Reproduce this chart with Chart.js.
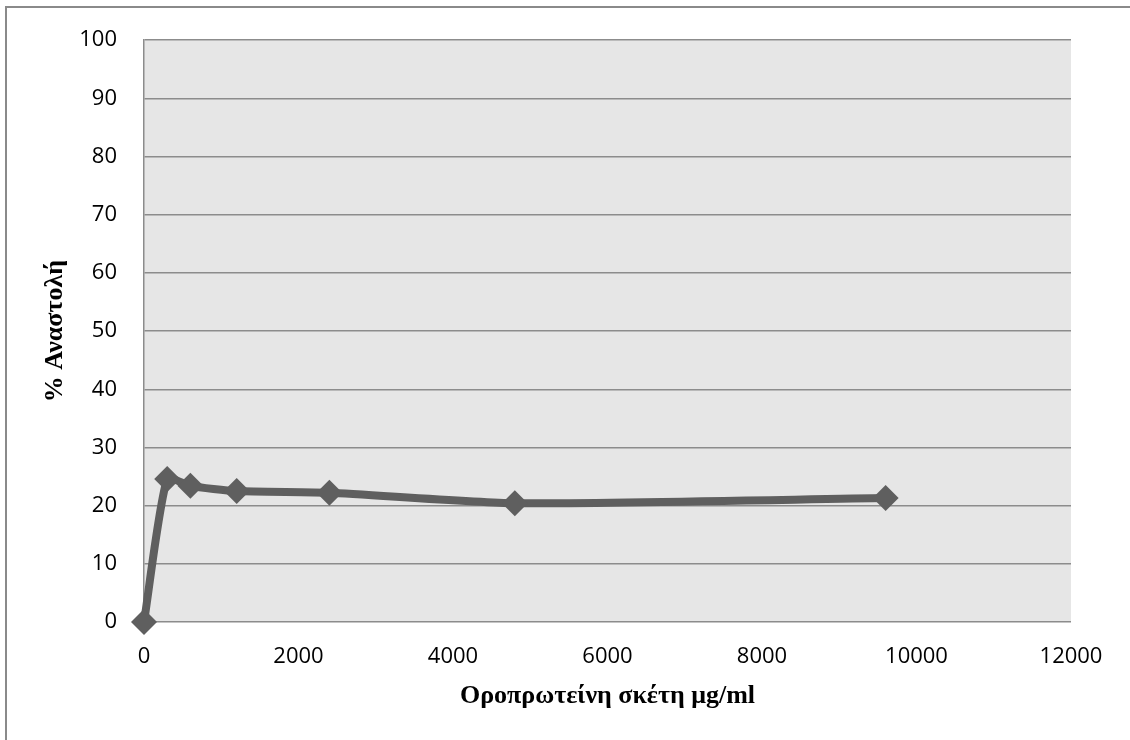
<!DOCTYPE html>
<html>
<head>
    <title>Αναστολή - Οροπρωτείνη</title>
    <script src="https://cdn.jsdelivr.net/npm/chart.js"></script>
    <style>
        html, body {
            margin: 0;
            padding: 0;
            background: #ffffff;
        }

        #chartBox {
            width: 1130px;
            height: 740px;
        }
    </style>
</head>
<body>
<div id="chartBox">
    <canvas id="inhibitionChart" width="1130" height="740"></canvas>
</div>
<script>
    // concentration (μg/ml) and measured inhibition (%)
    const concentrations = [0, 300, 600, 1200, 2400, 4800, 9600];
    const inhibition = [0, 24.6, 23.4, 22.5, 22.2, 20.4, 21.3];

    const xTicks = [0, 2000, 4000, 6000, 8000, 10000, 12000];
    const yTicks = [0, 10, 20, 30, 40, 50, 60, 70, 80, 90, 100];

    const xTitle = 'Οροπρωτείνη σκέτη μg/ml';
    const yTitle = '% Αναστολή';

    const points = concentrations.map((c, i) => ({x: c, y: inhibition[i]}));

    // grey plot area plus the thin outer frame
    const frame = {
        id: 'frame',
        beforeDraw(chart) {
            const {ctx, chartArea} = chart;
            ctx.save();
            ctx.fillStyle = '#e6e6e6';
            ctx.fillRect(chartArea.left, chartArea.top,
                chartArea.right - chartArea.left, chartArea.bottom - chartArea.top);
            ctx.strokeStyle = '#8a8a8a';
            ctx.lineWidth = 2;
            ctx.strokeRect(6, 7, 1140, 760);
            ctx.restore();
        }
    };

    const ctx = document.getElementById('inhibitionChart').getContext('2d');

    const inhibitionChart = new Chart(ctx, {
        type: 'scatter',
        data: {
            datasets: [{
                data: points,
                showLine: true,
                clip: false,
                borderColor: '#5f5f5f',
                backgroundColor: '#5f5f5f',
                borderWidth: 8,
                tension: 0.2,
                pointStyle: 'rectRot',
                pointRadius: 13,
                pointBorderWidth: 0,
                pointHoverRadius: 13
            }]
        },
        options: {
            responsive: false,
            animation: false,
            layout: {
                padding: {left: 0, top: 38, right: 59, bottom: 0}
            },
            plugins: {
                legend: {display: false},
                tooltip: {enabled: false}
            },
            scales: {
                x: {
                    type: 'linear',
                    min: 0,
                    max: 12000,
                    afterBuildTicks: scale => {
                        scale.ticks = xTicks.map(v => ({value: v}));
                    },
                    afterFit: scale => {
                        scale.height = 118;
                    },
                    grid: {display: false, drawTicks: false},
                    border: {display: false},
                    ticks: {
                        color: '#000000',
                        padding: 22,
                        maxRotation: 0,
                        callback: v => String(v),
                        font: {family: 'Open Sans', size: 22}
                    },
                    title: {
                        display: true,
                        text: xTitle,
                        color: '#000000',
                        padding: {top: 0, bottom: 28},
                        font: {family: 'Liberation Serif', size: 26, weight: 'bold'}
                    }
                },
                y: {
                    min: 0,
                    max: 100,
                    afterBuildTicks: scale => {
                        scale.ticks = yTicks.map(v => ({value: v}));
                    },
                    afterFit: scale => {
                        scale.width = 144;
                    },
                    grid: {
                        color: '#8c8c8c',
                        lineWidth: 1.5,
                        drawTicks: false
                    },
                    border: {display: true, color: '#8c8c8c', width: 1.5},
                    ticks: {
                        color: '#000000',
                        padding: 27,
                        callback: v => String(v),
                        font: {family: 'Open Sans', size: 22}
                    },
                    title: {
                        display: true,
                        text: yTitle,
                        color: '#000000',
                        padding: {top: 40, bottom: 0},
                        font: {family: 'Liberation Serif', size: 26, weight: 'bold'}
                    }
                }
            }
        },
        plugins: [frame]
    });
</script>
</body>
</html>
